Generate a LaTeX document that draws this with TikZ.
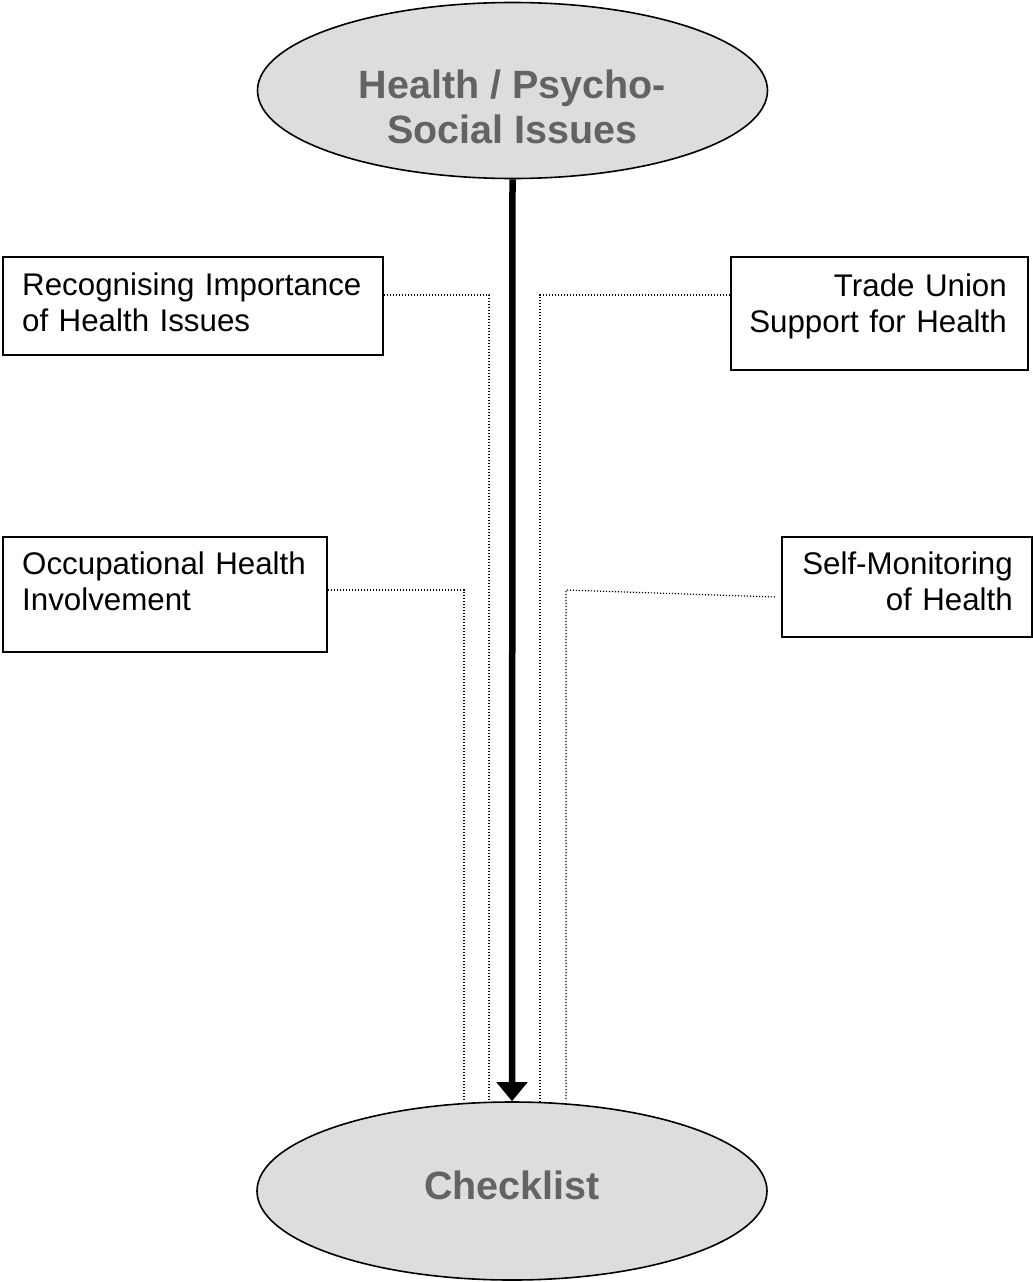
\documentclass[tikz,border=0pt]{standalone}
\usepackage{fontspec}
\setmainfont{Liberation Sans}
\usetikzlibrary{shapes.geometric,arrows.meta}

\definecolor{ovalfill}{HTML}{DDDDDD}
\definecolor{headgrey}{HTML}{636363}

\tikzset{
  oval/.style={ellipse, draw=black, line width=1.6pt, fill=ovalfill,
    minimum width=510pt, minimum height=176pt, inner sep=0pt},
  headtext/.style={font=\fontsize{39.5}{45}\selectfont\bfseries, text=headgrey,
    align=center, inner sep=0pt},
  factorbox/.style={draw=black, line width=2pt, inner sep=0pt},
  boxtext/.style={font=\fontsize{31.3}{36.5}\selectfont, inner sep=0pt},
  link/.style={line width=1.2pt, dash pattern=on 1.2pt off 1.8pt},
  mainarrow/.style={line width=6.5pt, -{Triangle[width=30pt,length=19pt]}}
}

\begin{document}
\begin{tikzpicture}[x=1pt,y=-1pt]
  \useasboundingbox (0,0) rectangle (1033,1282);

  % source and target ovals
  \node[oval] (src) at (512.5,90.5) {};
  \node[headtext] (srctext) at (512.5,107) {Health / Psycho-\\Social Issues};
  \node[oval, minimum height=178pt] (dst) at (512,1191) {};
  \node[headtext] (dsttext) at (512,1185) {Checklist};

  % factor boxes
  \node[factorbox, minimum width=380pt, minimum height=98pt] (b1) at (193,306) {};
  \node[boxtext, anchor=base west, text width=360pt, align=left] (t1) at (22,295)
    {Recognising Importance\\of Health Issues};

  \node[factorbox, minimum width=297pt, minimum height=113pt] (b2) at (879.5,313.5) {};
  \node[boxtext, anchor=base east, text width=280pt, align=right] (t2) at (1007,296)
    {Trade Union\\Support for Health};

  \node[factorbox, minimum width=324pt, minimum height=115pt] (b3) at (165,594.5) {};
  \node[boxtext, anchor=base west, text width=300pt, align=left] (t3) at (22,574)
    {Occupational Health\\Involvement};

  \node[factorbox, minimum width=250pt, minimum height=100pt] (b4) at (907,587) {};
  \node[boxtext, anchor=base east, text width=230pt, align=right] (t4) at (1013,574)
    {Self-Monitoring\\of Health};

  % main flow
  \draw[mainarrow] (src.south) -- (dst.north);

  % dotted feeder lines
  \coordinate (k1) at (489,295);
  \coordinate (k2) at (540,295);
  \coordinate (k3) at (464,590);
  \coordinate (k4) at (566,590);
  \coordinate (e4) at (775,597);
  \draw[link] (b1.east |- k1) -- (k1) -- (k1 |- dst.north);
  \draw[link] (b2.west |- k2) -- (k2) -- (k2 |- dst.north);
  \draw[link] (b3.east |- k3) -- (k3) -- (k3 |- dst.north);
  \draw[link] (e4) -- (k4) -- (k4 |- dst.north);
\end{tikzpicture}
\end{document}
